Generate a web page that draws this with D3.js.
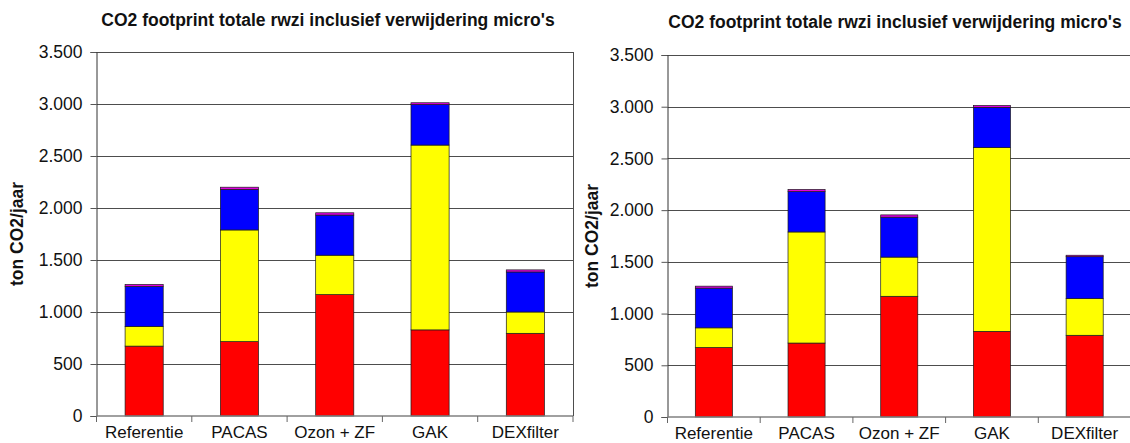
<!DOCTYPE html>
<html>
<head>
<meta charset="utf-8">
<script src="https://cdn.jsdelivr.net/npm/d3@7"></script>
<style>
  html, body { margin: 0; padding: 0; background: #fff; }
  svg { display: block; font-family: "Liberation Sans", Arial, sans-serif; }
</style>
</head>
<body>
<svg id="chart" width="1130" height="443"></svg>
<script>
// Categories and axis ticks
const categories = ["Referentie", "PACAS", "Ozon + ZF", "GAK", "DEXfilter"];
const yTicks = [0, 500, 1000, 1500, 2000, 2500, 3000, 3500];
const chartTitle = "CO2 footprint totale rwzi inclusief verwijdering micro's";
const yLabel = "ton CO2/jaar";

// Left chart: stacked components (ton CO2/jaar)
const leftRed     = [672, 715, 1167, 828, 795];
const leftYellow  = [190, 1074, 379, 1777, 205];
const leftBlue    = [384, 390, 386, 389, 385];
const leftMagenta = [19, 21, 22, 18, 20];

// Right chart: same installations, DEXfilter variant differs
const rightRed     = [672, 715, 1167, 828, 790];
const rightYellow  = [190, 1074, 379, 1777, 355];
const rightBlue    = [384, 390, 386, 389, 405];
const rightMagenta = [19, 21, 22, 18, 14];

const seriesKeys = ["red", "yellow", "blue", "magenta"];
const seriesColors = { red: "#ff0000", yellow: "#ffff00", blue: "#0000ff", magenta: "#e000e0" };

const nl = d3.formatLocale({ decimal: ",", thousands: ".", grouping: [3], currency: ["", ""] });
const fmt = nl.format(",");

const svg = d3.select("#chart");

function buildRows(red, yellow, blue, magenta) {
  return categories.map((c, i) => ({
    cat: c, red: red[i], yellow: yellow[i], blue: blue[i], magenta: magenta[i]
  }));
}

function drawPanel(cfg) {
  const g = svg.append("g");
  const x = d3.scaleBand().domain(categories).range([cfg.x0, cfg.x1])
    .paddingInner(0.6).paddingOuter(0.3);
  const y = d3.scaleLinear().domain([0, 3500]).range([cfg.yZero, cfg.yTop]);

  // gridlines
  g.append("g").selectAll("line").data(yTicks.filter(t => t > 0)).join("line")
    .attr("x1", cfg.x0).attr("x2", cfg.x1)
    .attr("y1", d => Math.round(y(d)) + 0.5).attr("y2", d => Math.round(y(d)) + 0.5)
    .attr("stroke", "#4d4d4d").attr("stroke-width", 1);

  // right border of plot area
  if (cfg.rightBorder) {
    g.append("line")
      .attr("x1", Math.round(cfg.x1) + 0.5).attr("x2", Math.round(cfg.x1) + 0.5)
      .attr("y1", y(3500)).attr("y2", y(0))
      .attr("stroke", "#4d4d4d").attr("stroke-width", 1);
  }

  // stacked bars
  const stack = d3.stack().keys(seriesKeys)(cfg.rows);
  g.append("g").selectAll("g").data(stack).join("g")
    .attr("fill", d => seriesColors[d.key])
    .selectAll("rect").data(d => d).join("rect")
      .attr("x", d => x(d.data.cat))
      .attr("width", x.bandwidth())
      .attr("y", d => y(d[1]))
      .attr("height", d => y(d[0]) - y(d[1]))
      .attr("stroke", "#1a1a1a").attr("stroke-width", 0.7);

  // y axis
  const yAxis = d3.axisLeft(y).tickValues(yTicks).tickFormat(fmt).tickSize(6).tickPadding(8);
  const ya = g.append("g").attr("transform", `translate(${cfg.x0},0)`).call(yAxis);
  ya.select(".domain").attr("stroke", "#333");
  ya.selectAll(".tick line").attr("stroke", "#555");
  ya.selectAll("text").attr("font-size", 17.5).attr("fill", "#111")
    .attr("font-family", "'Liberation Sans', Arial, sans-serif");

  // x axis with ticks at category boundaries
  g.append("line")
    .attr("x1", cfg.x0).attr("x2", cfg.x1)
    .attr("y1", y(0)).attr("y2", y(0))
    .attr("stroke", "#808080").attr("stroke-width", 1.5);
  const step = x.step();
  const bounds = d3.range(categories.length + 1).map(i => cfg.x0 + i * step);
  g.append("g").selectAll("line").data(bounds).join("line")
    .attr("x1", d => d).attr("x2", d => d)
    .attr("y1", y(0)).attr("y2", y(0) + 6)
    .attr("stroke", "#666");
  g.append("g").selectAll("text").data(categories).join("text")
    .attr("x", d => x(d) + x.bandwidth() / 2)
    .attr("y", cfg.labelY)
    .attr("text-anchor", "middle")
    .attr("font-size", 17).attr("fill", "#111")
    .text(d => d);

  // title
  g.append("text")
    .attr("x", cfg.titleX).attr("y", cfg.titleY)
    .attr("text-anchor", "middle")
    .attr("font-size", 17.5).attr("font-weight", "bold").attr("fill", "#111")
    .text(chartTitle);

  // y axis title
  g.append("text")
    .attr("transform", `translate(${cfg.yLabelX},${(y(0) + y(3500)) / 2}) rotate(-90)`)
    .attr("text-anchor", "middle")
    .attr("font-size", 17.5).attr("font-weight", "bold").attr("fill", "#111")
    .text(yLabel);
}

drawPanel({
  x0: 96.5, x1: 573, yZero: 416, yTop: 52,
  rows: buildRows(leftRed, leftYellow, leftBlue, leftMagenta),
  rightBorder: true, labelY: 438, titleX: 328, titleY: 26, yLabelX: 23
});

drawPanel({
  x0: 667.5, x1: 1131, yZero: 417, yTop: 55,
  rows: buildRows(rightRed, rightYellow, rightBlue, rightMagenta),
  rightBorder: false, labelY: 439, titleX: 895, titleY: 28, yLabelX: 598
});
</script>
</body>
</html>
